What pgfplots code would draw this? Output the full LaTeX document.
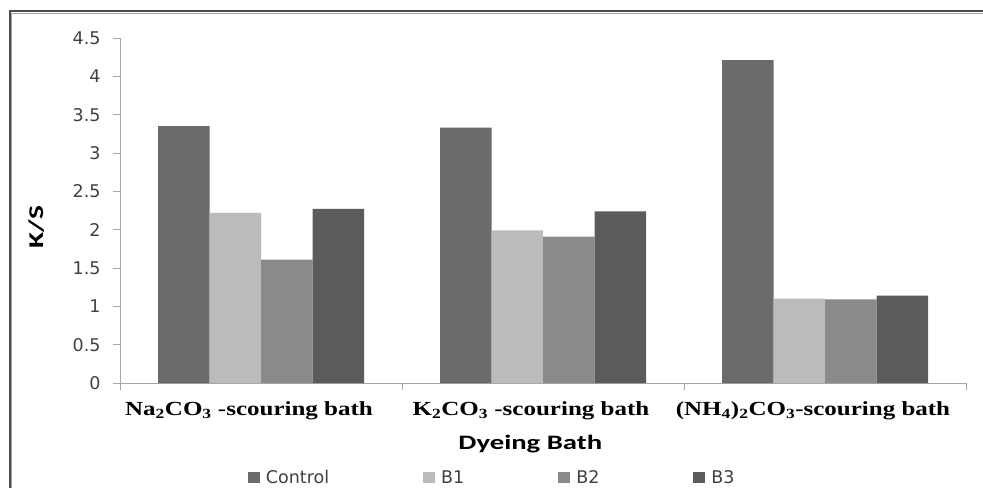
\documentclass[border=0pt]{standalone}
\usepackage{fontspec}
\setmainfont{DejaVu Sans}
\newfontfamily\catfont{Liberation Serif}[FakeStretch=1.25]
\newfontfamily\titlefont{Carlito}[FakeStretch=1.4]
\usepackage{pgfplots}
\pgfplotsset{compat=1.18}
\definecolor{cCtrl}{HTML}{6B6B6B}
\definecolor{cB1}{HTML}{BBBBBB}
\definecolor{cB2}{HTML}{8A8A8A}
\definecolor{cB3}{HTML}{5B5B5B}
\definecolor{tickgray}{HTML}{404040}
\definecolor{axgray}{HTML}{A6A6A6}
\pgfplotsset{sqlegend/.style={legend image code/.code={\fill[##1] (0pt,-5.5pt) rectangle (12pt,5.5pt);}}}
\begin{document}
\begin{tikzpicture}[x=1pt,y=1pt]
\useasboundingbox (0,0) rectangle (983,488);
\draw[line width=2pt,color=black!70] (9.5,0) -- (9.5,476.5) -- (983,476.5);
\draw[line width=1.8pt,color=black!35] (11.5,0) -- (11.5,474.6);
\draw[line width=1pt,color=black!35] (11.5,474.6) -- (983,474.6);
\begin{axis}[
  at={(120pt,105pt)}, anchor=south west,
  scale only axis, width=846pt, height=345pt,
  ybar=0pt, bar width=51.5pt,
  xmin=-0.5, xmax=2.5, ymin=0, ymax=4.5,
  axis x line*=bottom, axis y line*=left,
  axis line style={color=axgray, line width=1pt},
  every tick/.style={color=axgray, line width=1pt},
  tick align=outside,
  ytick={0,0.5,...,4.5},
  yticklabels={0,0.5,1,1.5,2,2.5,3,3.5,4,4.5},
  xtick={0,1,2},
  major x tick style={draw=none},
  minor xtick={-0.5,0.5,1.5,2.5},
  minor tick length=7pt,
  major tick length=7pt,
  xticklabels={{Na\textsubscript{2}CO\textsubscript{3} -scouring bath},
               {K\textsubscript{2}CO\textsubscript{3} -scouring bath},
               {(NH\textsubscript{4})\textsubscript{2}CO\textsubscript{3}-scouring bath}},
  xticklabel style={font=\catfont\bfseries\fontsize{20}{20}\selectfont, text=black, yshift=-8pt, xshift=-12pt},
  yticklabel style={font=\fontsize{17.5}{17.5}\selectfont, text=tickgray, xshift=-9pt},
  /pgf/number format/assume math mode=true,
  xlabel={Dyeing Bath},
  xlabel style={font=\titlefont\bfseries\fontsize{20.5}{20.5}\selectfont, at={(axis description cs:0.485,-0.177)}, anchor=center},
  ylabel={K/S},
  ylabel style={font=\titlefont\bfseries\fontsize{21}{21}\selectfont, at={(axis description cs:-0.098,0.452)}, anchor=center},
  legend columns=4,
  legend style={draw=none, fill=none, at={(axis description cs:0.44,-0.274)}, anchor=center,
    font=\fontsize{17.5}{17.5}\selectfont, text=tickgray,
    /tikz/every odd column/.append style={column sep=4pt},
    /tikz/every even column/.append style={column sep=92pt}},
  clip=false,
]
\addplot[fill=cCtrl, draw=none, sqlegend] coordinates {(0,3.35) (1,3.33) (2,4.21)};
\addplot[fill=cB1, draw=none, sqlegend] coordinates {(0,2.22) (1,1.99) (2,1.10)};
\addplot[fill=cB2, draw=none, sqlegend] coordinates {(0,1.61) (1,1.91) (2,1.09)};
\addplot[fill=cB3, draw=none, sqlegend] coordinates {(0,2.27) (1,2.24) (2,1.14)};
\legend{Control,B1,B2,B3}
\end{axis}
\end{tikzpicture}
\end{document}
